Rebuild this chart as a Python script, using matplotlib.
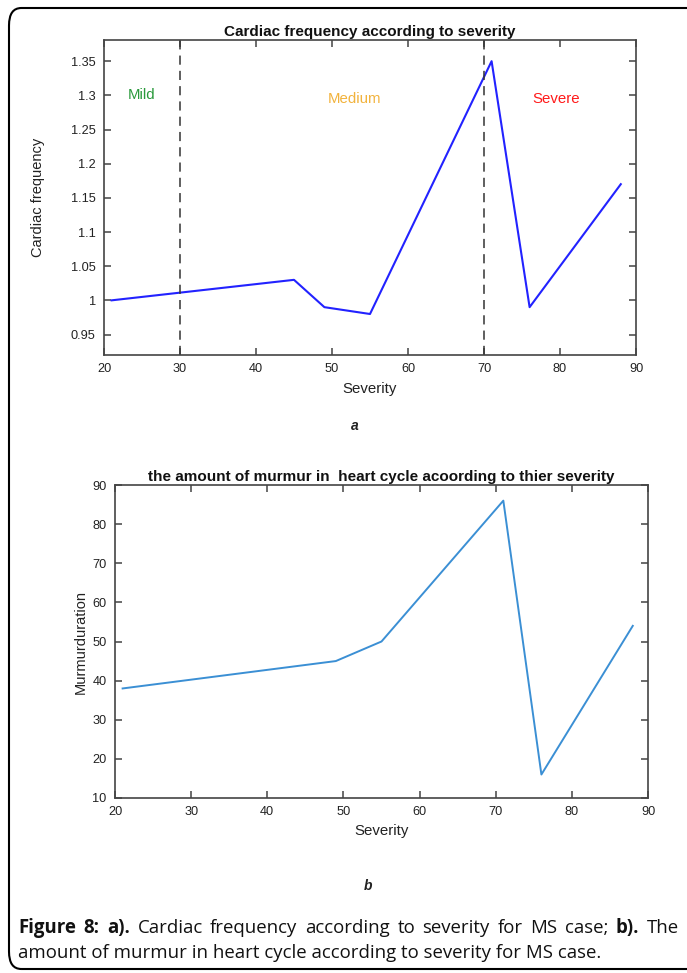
import matplotlib
matplotlib.use("Agg")
import matplotlib.pyplot as plt
from matplotlib.patches import FancyBboxPatch

# panel a: cardiac frequency vs severity
sev_a = [21, 45, 49, 55, 71, 76, 88]
freq_a = [1.00, 1.03, 0.99, 0.98, 1.35, 0.99, 1.17]
boundaries = [30, 70]
zones = ["Mild", "Medium", "Severe"]
zone_x = [25, 53, 79.5]
zone_y = [1.30, 1.295, 1.295]
zone_colors = ["#2a9a3c", "#f2b33d", "#ff1a1a"]

# panel b: murmur duration vs severity
sev_b = [21, 49, 55, 71, 76, 88]
murmur_b = [38, 45, 50, 86, 16, 54]

plt.rcParams['font.family'] = ['Liberation Sans', 'DejaVu Sans']

W, H = 687, 973
fig = plt.figure(figsize=(W / 100, H / 100), dpi=100)


def box(l, t, r, b):
    return [l / W, 1 - b / H, (r - l) / W, (b - t) / H]


def style(ax):
    ax.tick_params(direction='in', length=5, width=1.1, top=True, right=True,
                   labelsize=9.2, labelcolor='#222222', color='#444444', pad=6)
    for s in ax.spines.values():
        s.set_color('#444444')
        s.set_linewidth(1.2)


# outer frame
frame = FancyBboxPatch((9 / W, 4 / H), 700 / W, 961 / H,
                       boxstyle="round,pad=0,rounding_size=0.018",
                       transform=fig.transFigure, fill=False,
                       edgecolor='black', linewidth=1.5, clip_on=False)
fig.patches.append(frame)

ax1 = fig.add_axes(box(104, 40, 636, 355))
ax1.plot(sev_a, freq_a, color='#2222ff', linewidth=1.5)
for b in boundaries:
    ax1.axvline(b, color='#333333', linestyle=(0, (6, 4)), linewidth=1.1)
for name, x, y, c in zip(zones, zone_x, zone_y, zone_colors):
    ax1.text(x, y, name, color=c, fontsize=10.8, ha='center', va='center')
ax1.set_xlim(20, 90)
ax1.set_ylim(0.92, 1.381)
ax1.set_xticks(range(20, 91, 10))
ax1.set_yticks([0.95, 1, 1.05, 1.1, 1.15, 1.2, 1.25, 1.3, 1.35])
ax1.set_yticklabels(['0.95', '1', '1.05', '1.1', '1.15', '1.2', '1.25', '1.3', '1.35'])
ax1.set_title('Cardiac frequency according to severity', fontsize=11,
              fontweight='bold', color='#111111', pad=3)
ax1.set_xlabel('Severity', fontsize=10.8, color='#222222', labelpad=5)
ax1.set_ylabel('Cardiac frequency', fontsize=10.5, color='#222222')
ax1.yaxis.set_label_coords(-0.11, 0.5)
style(ax1)

ax2 = fig.add_axes(box(115, 485, 648, 798))
ax2.plot(sev_b, murmur_b, color='#3b8fd4', linewidth=1.4)
ax2.set_xlim(20, 90)
ax2.set_ylim(10, 90)
ax2.set_xticks(range(20, 91, 10))
ax2.set_yticks(range(10, 91, 10))
ax2.set_title('the amount of murmur in  heart cycle acoording to thier severity',
              fontsize=11, fontweight='bold', color='#111111', pad=3)
ax2.set_xlabel('Severity', fontsize=10.8, color='#222222', labelpad=4)
ax2.set_ylabel('Murmurduration', fontsize=10.5, color='#222222')
ax2.yaxis.set_label_coords(-0.052, 0.5)
style(ax2)

fig.text(355 / W, 1 - 426 / H, 'a', fontsize=10, fontweight='bold',
         fontstyle='italic', ha='center', va='center', color='#222222')
fig.text(368 / W, 1 - 886 / H, 'b', fontsize=10, fontweight='bold',
         fontstyle='italic', ha='center', va='center', color='#222222')

# caption, first line justified between x0 and x1
cap_font = 'Open Sans'
cap_size = 13.4
line1 = [("Figure", True), ("8:", True), ("a).", True), ("Cardiac", False),
         ("frequency", False), ("according", False), ("to", False),
         ("severity", False), ("for", False), ("MS", False), ("case;", False),
         ("b).", True), ("The", False)]
line2 = "amount of murmur in heart cycle according to severity for MS case."
x0, x1 = 18, 679
y1, y2 = 933, 958

words = []
for w, bold in line1:
    t = fig.text(0, 1 - y1 / H, w, fontsize=cap_size, family=cap_font,
                 fontweight='bold' if bold else 'normal', color='#111111',
                 ha='left', va='baseline')
    words.append(t)
fig.canvas.draw()
r = fig.canvas.get_renderer()
widths = [t.get_window_extent(r).width for t in words]
gap = (x1 - x0 - sum(widths)) / (len(words) - 1)
x = x0
for t, wd in zip(words, widths):
    t.set_x(x / W)
    x += wd + gap

fig.text(x0 / W, 1 - y2 / H, line2, fontsize=cap_size, family=cap_font,
         color='#111111', ha='left', va='baseline')

fig.savefig('out.png', dpi=100)
